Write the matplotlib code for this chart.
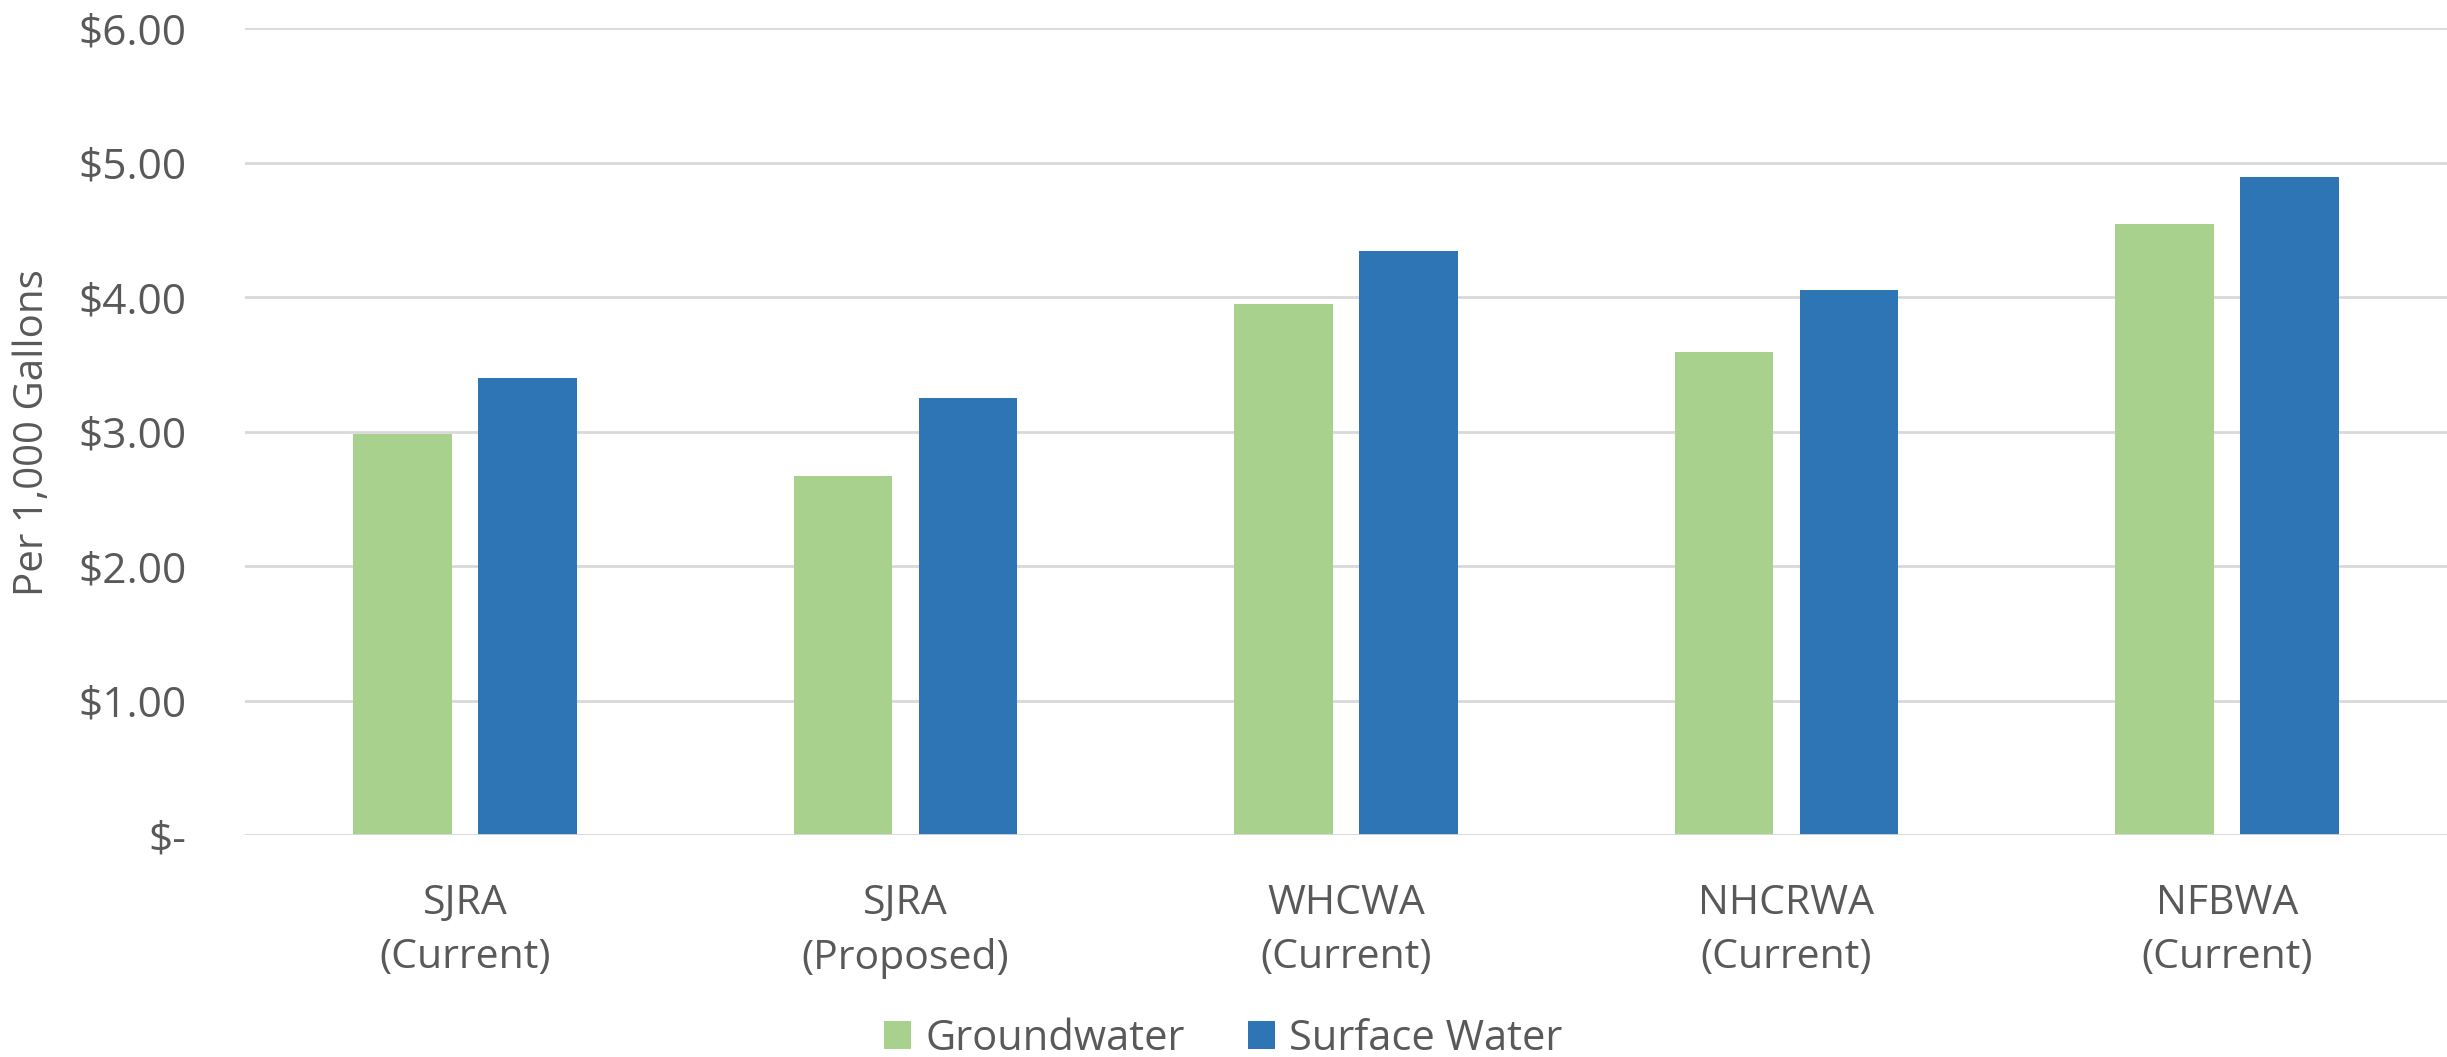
import matplotlib
matplotlib.use("Agg")
import matplotlib.pyplot as plt
import numpy as np
from matplotlib.patches import Patch

categories = ["SJRA\n(Current)", "SJRA\n(Proposed)", "WHCWA\n(Current)", "NHCRWA\n(Current)", "NFBWA\n(Current)"]
groundwater = [2.98, 2.67, 3.95, 3.59, 4.54]
surface_water = [3.40, 3.25, 4.34, 4.05, 4.89]
series_names = ["Groundwater", "Surface Water"]
yticks = [0, 1, 2, 3, 4, 5, 6]
ytick_labels = ["$-", "$1.00", "$2.00", "$3.00", "$4.00", "$5.00", "$6.00"]

GREEN = "#a9d18e"
BLUE = "#2e75b6"
TXT = "#595959"
GRID = "#d9d9d9"

plt.rcParams['font.family'] = ['Open Sans', 'DejaVu Sans']

fig = plt.figure(figsize=(24.47, 10.57), dpi=100)
ax = fig.add_axes([0.1001, 0.210, 0.8999, 0.7635])

x = np.arange(len(categories))
w = 0.224
off = 0.142
ax.bar(x - off, groundwater, w, color=GREEN, zorder=3)
ax.bar(x + off, surface_water, w, color=BLUE, zorder=3)

ax.set_xlim(-0.5, len(categories) - 0.5)
ax.set_ylim(0, 6)
ax.set_yticks(yticks)
ax.set_yticklabels(ytick_labels)
ax.set_xticks(x)
ax.set_xticklabels(categories, linespacing=1.45)

ax.yaxis.grid(True, color=GRID, linewidth=2, zorder=0)
for s in ax.spines.values():
    s.set_visible(False)
ax.axhline(0, color=GRID, linewidth=2, zorder=4)
ax.tick_params(axis='y', length=0, pad=42, labelsize=30.5, labelcolor=TXT)
ax.tick_params(axis='x', length=0, pad=35, labelsize=29.5, labelcolor=TXT)

fig.text(0.0135, 0.591, "Per 1,000 Gallons", rotation=90, ha='center', va='center',
         fontsize=29, color=TXT)

handles = [Patch(facecolor=GREEN, edgecolor='none'), Patch(facecolor=BLUE, edgecolor='none')]
fig.legend(handles, series_names, loc='center', bbox_to_anchor=(0.5, 0.017), ncol=2,
           frameon=False, fontsize=30, labelcolor=TXT, handlelength=0.65, handleheight=0.65,
           handletextpad=0.35, columnspacing=1.5)

fig.savefig("out.png", dpi=100, facecolor='white')
